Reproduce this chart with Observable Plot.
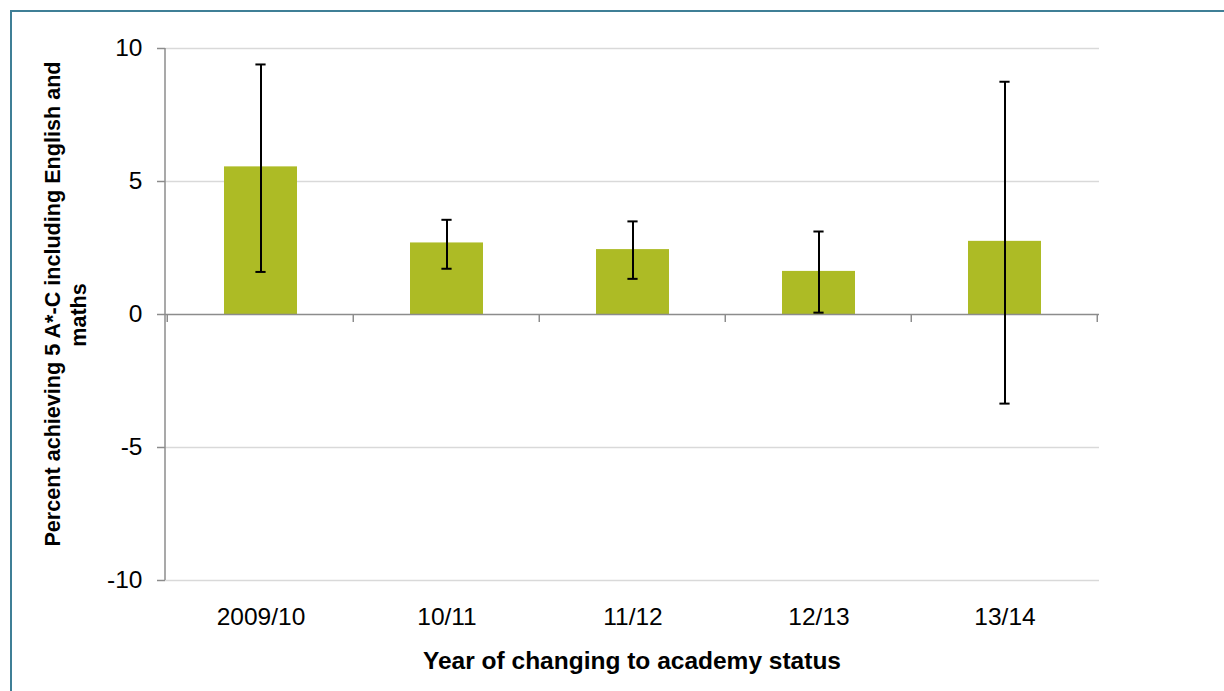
<!DOCTYPE html>
<html>
<head>
<meta charset="utf-8">
<script src="https://cdn.jsdelivr.net/npm/d3@7"></script>
<script src="https://cdn.jsdelivr.net/npm/@observablehq/plot@0.6"></script>
<style>
  html, body { margin: 0; padding: 0; background: #fff; }
  #wrap { position: relative; width: 1224px; height: 691px; overflow: hidden; }
  #border { position: absolute; left: 10px; top: 10px; width: 1220px; height: 690px;
            border-top: 2px solid #3f7f96; border-left: 2px solid #3f7f96; box-sizing: border-box; }
  #chart { position: absolute; left: 0; top: 0; }
</style>
</head>
<body>
<div id="wrap"><div id="border"></div><div id="chart"></div></div>
<script>
const categories = ["2009/10", "10/11", "11/12", "12/13", "13/14"];
const values = [5.55, 2.69, 2.44, 1.62, 2.75];
const lower = [1.60, 1.72, 1.34, 0.07, -3.35];
const upper = [9.40, 3.56, 3.50, 3.12, 8.75];
const yTicks = [-10, -5, 0, 5, 10];
const xTitle = "Year of changing to academy status";
const yTitleLines = ["Percent achieving 5 A*-C including English and", "maths"];

const data = categories.map((c, i) => ({cat: c, value: values[i], lo: lower[i], hi: upper[i]}));

const font = "'Liberation Sans', Arial, sans-serif";
const chart = Plot.plot({
  width: 1224,
  height: 691,
  marginLeft: 165,
  marginRight: 125,
  marginTop: 48,
  marginBottom: 111,
  style: {fontFamily: font, fontSize: "24.5px", color: "#000", background: "transparent", overflow: "visible"},
  x: {domain: categories, paddingInner: 0.61, paddingOuter: 0.305, label: null},
  y: {domain: [-10, 10], ticks: yTicks, label: null},
  marks: [
    Plot.gridY(yTicks.filter(d => d !== 0), {stroke: "#d9d9d9", strokeOpacity: 1, strokeWidth: 1.5}),
    Plot.barY(data, {x: "cat", y: "value", fill: "#adbb25"}),
    Plot.ruleY([0], {stroke: "#8c8c8c", strokeWidth: 1.5}),
    Plot.ruleX(data, {x: "cat", y1: "lo", y2: "hi", stroke: "#000", strokeWidth: 2}),
    Plot.tickY(data, {x: "cat", y: "hi", stroke: "#000", strokeWidth: 2, insetLeft: 31.4, insetRight: 31.4}),
    Plot.tickY(data, {x: "cat", y: "lo", stroke: "#000", strokeWidth: 2, insetLeft: 31.4, insetRight: 31.4}),
    Plot.axisX({anchor: "bottom", tickSize: 0, tickPadding: 27, fontSize: 24.5}),
    Plot.axisY({ticks: yTicks, tickSize: 8, tickPadding: 15, tickFormat: d => String(d),
                stroke: "#8c8c8c", strokeWidth: 1.5, strokeOpacity: 1, fill: "#000", fontSize: 24.5})
  ]
});

document.getElementById("chart").appendChild(chart);

// Extra decorations placed via the chart's own scales
const xs = chart.scale("x");
const ys = chart.scale("y");
const svg = d3.select(chart);
const g = svg.append("g");

// Y axis line
g.append("line")
  .attr("x1", xs.range[0]).attr("x2", xs.range[0])
  .attr("y1", ys.apply(10)).attr("y2", ys.apply(-10))
  .attr("stroke", "#8c8c8c").attr("stroke-width", 1.5);

// X boundary ticks at the zero line
const bounds = categories.map(c => xs.apply(c) - xs.step * xs.paddingInner / 2);
bounds.push(bounds[bounds.length - 1] + xs.step);
const y0 = ys.apply(0);
g.selectAll("line.bt").data(bounds).join("line")
  .attr("class", "bt")
  .attr("x1", d => d).attr("x2", d => d)
  .attr("y1", y0).attr("y2", y0 + 8)
  .attr("stroke", "#8c8c8c").attr("stroke-width", 1.5);

// X title
const xMid = (xs.range[0] + xs.range[1]) / 2;
g.append("text")
  .attr("x", xMid).attr("y", 669)
  .attr("text-anchor", "middle")
  .attr("font-family", font).attr("font-weight", "bold").attr("font-size", 24.5)
  .attr("fill", "#000")
  .text(xTitle);

// Y title (two lines, rotated)
const yCenters = [304, 315];
const yBaselines = [60, 86];
yTitleLines.forEach((line, i) => {
  g.append("text")
    .attr("transform", `translate(${yBaselines[i]},${yCenters[i]}) rotate(-90)`)
    .attr("text-anchor", "middle")
    .attr("font-family", font).attr("font-weight", "bold").attr("font-size", 21.6)
    .attr("fill", "#000")
    .text(line);
});
</script>
</body>
</html>
